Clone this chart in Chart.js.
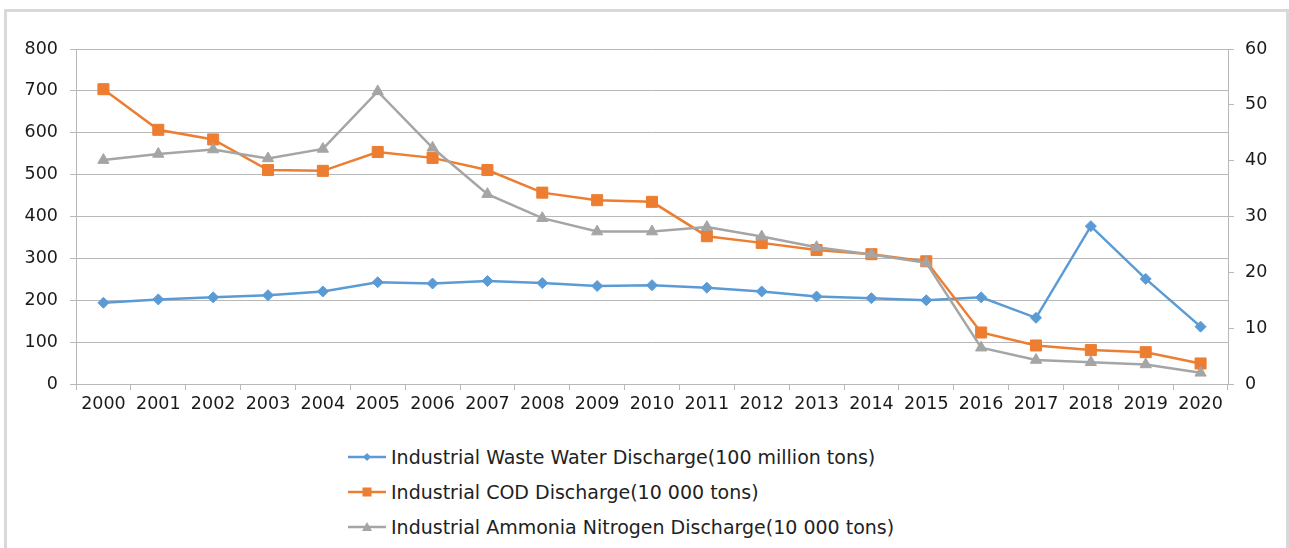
<!DOCTYPE html>
<html>
<head>
<meta charset="utf-8">
<script src="https://cdn.jsdelivr.net/npm/chart.js@4.4.1/dist/chart.umd.min.js"></script>
<style>
  body { margin: 0; background: #fff; width: 1289px; height: 548px; overflow: hidden; position: relative; font-family: "DejaVu Sans", Verdana, sans-serif; }
  .frame { position: absolute; left: 4px; top: 9px; width: 1279px; height: 600px; border: 3px solid #d9d9d9; border-bottom: none; }
  #wrap { position: absolute; left: 0; top: 0; width: 1289px; height: 420px; }
  #legend { position: absolute; left: 348px; top: 439px; }
  .item { display: flex; align-items: center; height: 35px; font-size: 19px; color: #222; white-space: nowrap; }
  .item svg { margin-right: 5px; }
</style>
</head>
<body>
<div class="frame"></div>
<div id="wrap"><canvas id="myChart"></canvas></div>
<div id="legend"></div>
<script>
// categories
const years = ['2000','2001','2002','2003','2004','2005','2006','2007','2008','2009','2010',
               '2011','2012','2013','2014','2015','2016','2017','2018','2019','2020'];

// left axis series
const wasteWater = [194, 202, 207, 212, 221, 243, 240, 246, 241, 234, 236, 230, 221, 209, 205, 200, 207, 158, 377, 251, 137];
const codDischarge = [704, 607, 584, 511, 509, 554, 540, 511, 457, 439, 435, 353, 337, 320, 310, 293, 123, 92, 81, 76, 49];
// right axis series
const ammoniaDischarge = [40.1, 41.2, 42.0, 40.4, 42.1, 52.4, 42.3, 34.0, 29.7, 27.3, 27.3, 28.1, 26.4, 24.5, 23.2, 21.7, 6.5, 4.3, 3.9, 3.5, 2.0];

const seriesNames = [
  'Industrial Waste Water Discharge(100 million tons)',
  'Industrial COD Discharge(10 000 tons)',
  'Industrial Ammonia Nitrogen Discharge(10 000 tons)'
];

const blue = '#5b9bd5', orange = '#ed7d31', gray = '#a5a5a5';
const gridColor = '#b8b8b8';
const tickFont = { family: '"DejaVu Sans", Verdana, sans-serif', size: 17.5 };

let datasets = [
  { label: seriesNames[0], data: wasteWater, yAxisID: 'y', borderColor: blue, backgroundColor: blue,
    pointStyle: 'rectRot', pointRadius: 5.5, order: 3 },
  { label: seriesNames[1], data: codDischarge, yAxisID: 'y', borderColor: orange, backgroundColor: orange,
    pointStyle: 'rect', pointRadius: 7.8, order: 2 },
  { label: seriesNames[2], data: ammoniaDischarge, yAxisID: 'y1', borderColor: gray, backgroundColor: gray,
    pointStyle: 'triangle', pointRadius: 6.5, order: 1 }
];
datasets.forEach(d => {
  d.borderWidth = 2.5;
  d.pointBorderWidth = 1;
  d.pointBorderColor = d.borderColor;
  d.pointBackgroundColor = d.borderColor;
  d.tension = 0;
});

let ctx = document.getElementById('myChart').getContext('2d');
const myChart = new Chart(ctx, {
  type: 'line',
  data: { labels: years, datasets: datasets },
  options: {
    responsive: true,
    maintainAspectRatio: false,
    animation: false,
    layout: { padding: { top: 49, left: 0, right: 0, bottom: 0 } },
    plugins: { legend: { display: false }, tooltip: { enabled: false } },
    scales: {
      x: {
        offset: true,
        grid: { display: true, offset: true, drawOnChartArea: false, color: gridColor, tickLength: 6 },
        border: { display: true, color: gridColor },
        ticks: { font: tickFont, color: '#1a1a1a', padding: 4, maxRotation: 0, autoSkip: false },
        afterFit: s => { s.height = 36; }
      },
      y: {
        position: 'left',
        min: 0, max: 800,
        ticks: { stepSize: 100, font: tickFont, color: '#1a1a1a', padding: 12 },
        grid: { color: gridColor, tickLength: 6 },
        border: { display: true, color: gridColor },
        afterFit: s => { s.width = 76; }
      },
      y1: {
        position: 'right',
        min: 0, max: 60,
        ticks: { stepSize: 10, font: tickFont, color: '#1a1a1a', padding: 11 },
        grid: { drawOnChartArea: false, color: gridColor, tickLength: 6 },
        border: { display: true, color: gridColor },
        afterFit: s => { s.width = 61; }
      }
    }
  }
});

// legend built from the datasets
function markerSvg(d) {
  let c = d.borderColor, m;
  if (d.pointStyle === 'rectRot') m = `<polygon points="19,2 23,6 19,10 15,6" fill="${c}"/>`;
  else if (d.pointStyle === 'rect') m = `<rect x="14.5" y="1.5" width="9" height="9" fill="${c}"/>`;
  else m = `<polygon points="19,1 24,10 14,10" fill="${c}"/>`;
  return `<svg width="38" height="12" viewBox="0 0 38 12"><line x1="0" y1="6" x2="38" y2="6" stroke="${c}" stroke-width="2.5"/>${m}</svg>`;
}
let legend = document.getElementById('legend');
datasets.forEach(d => {
  let row = document.createElement('div');
  row.className = 'item';
  row.innerHTML = markerSvg(d) + '<span>' + d.label + '</span>';
  legend.appendChild(row);
});
</script>
</body>
</html>
